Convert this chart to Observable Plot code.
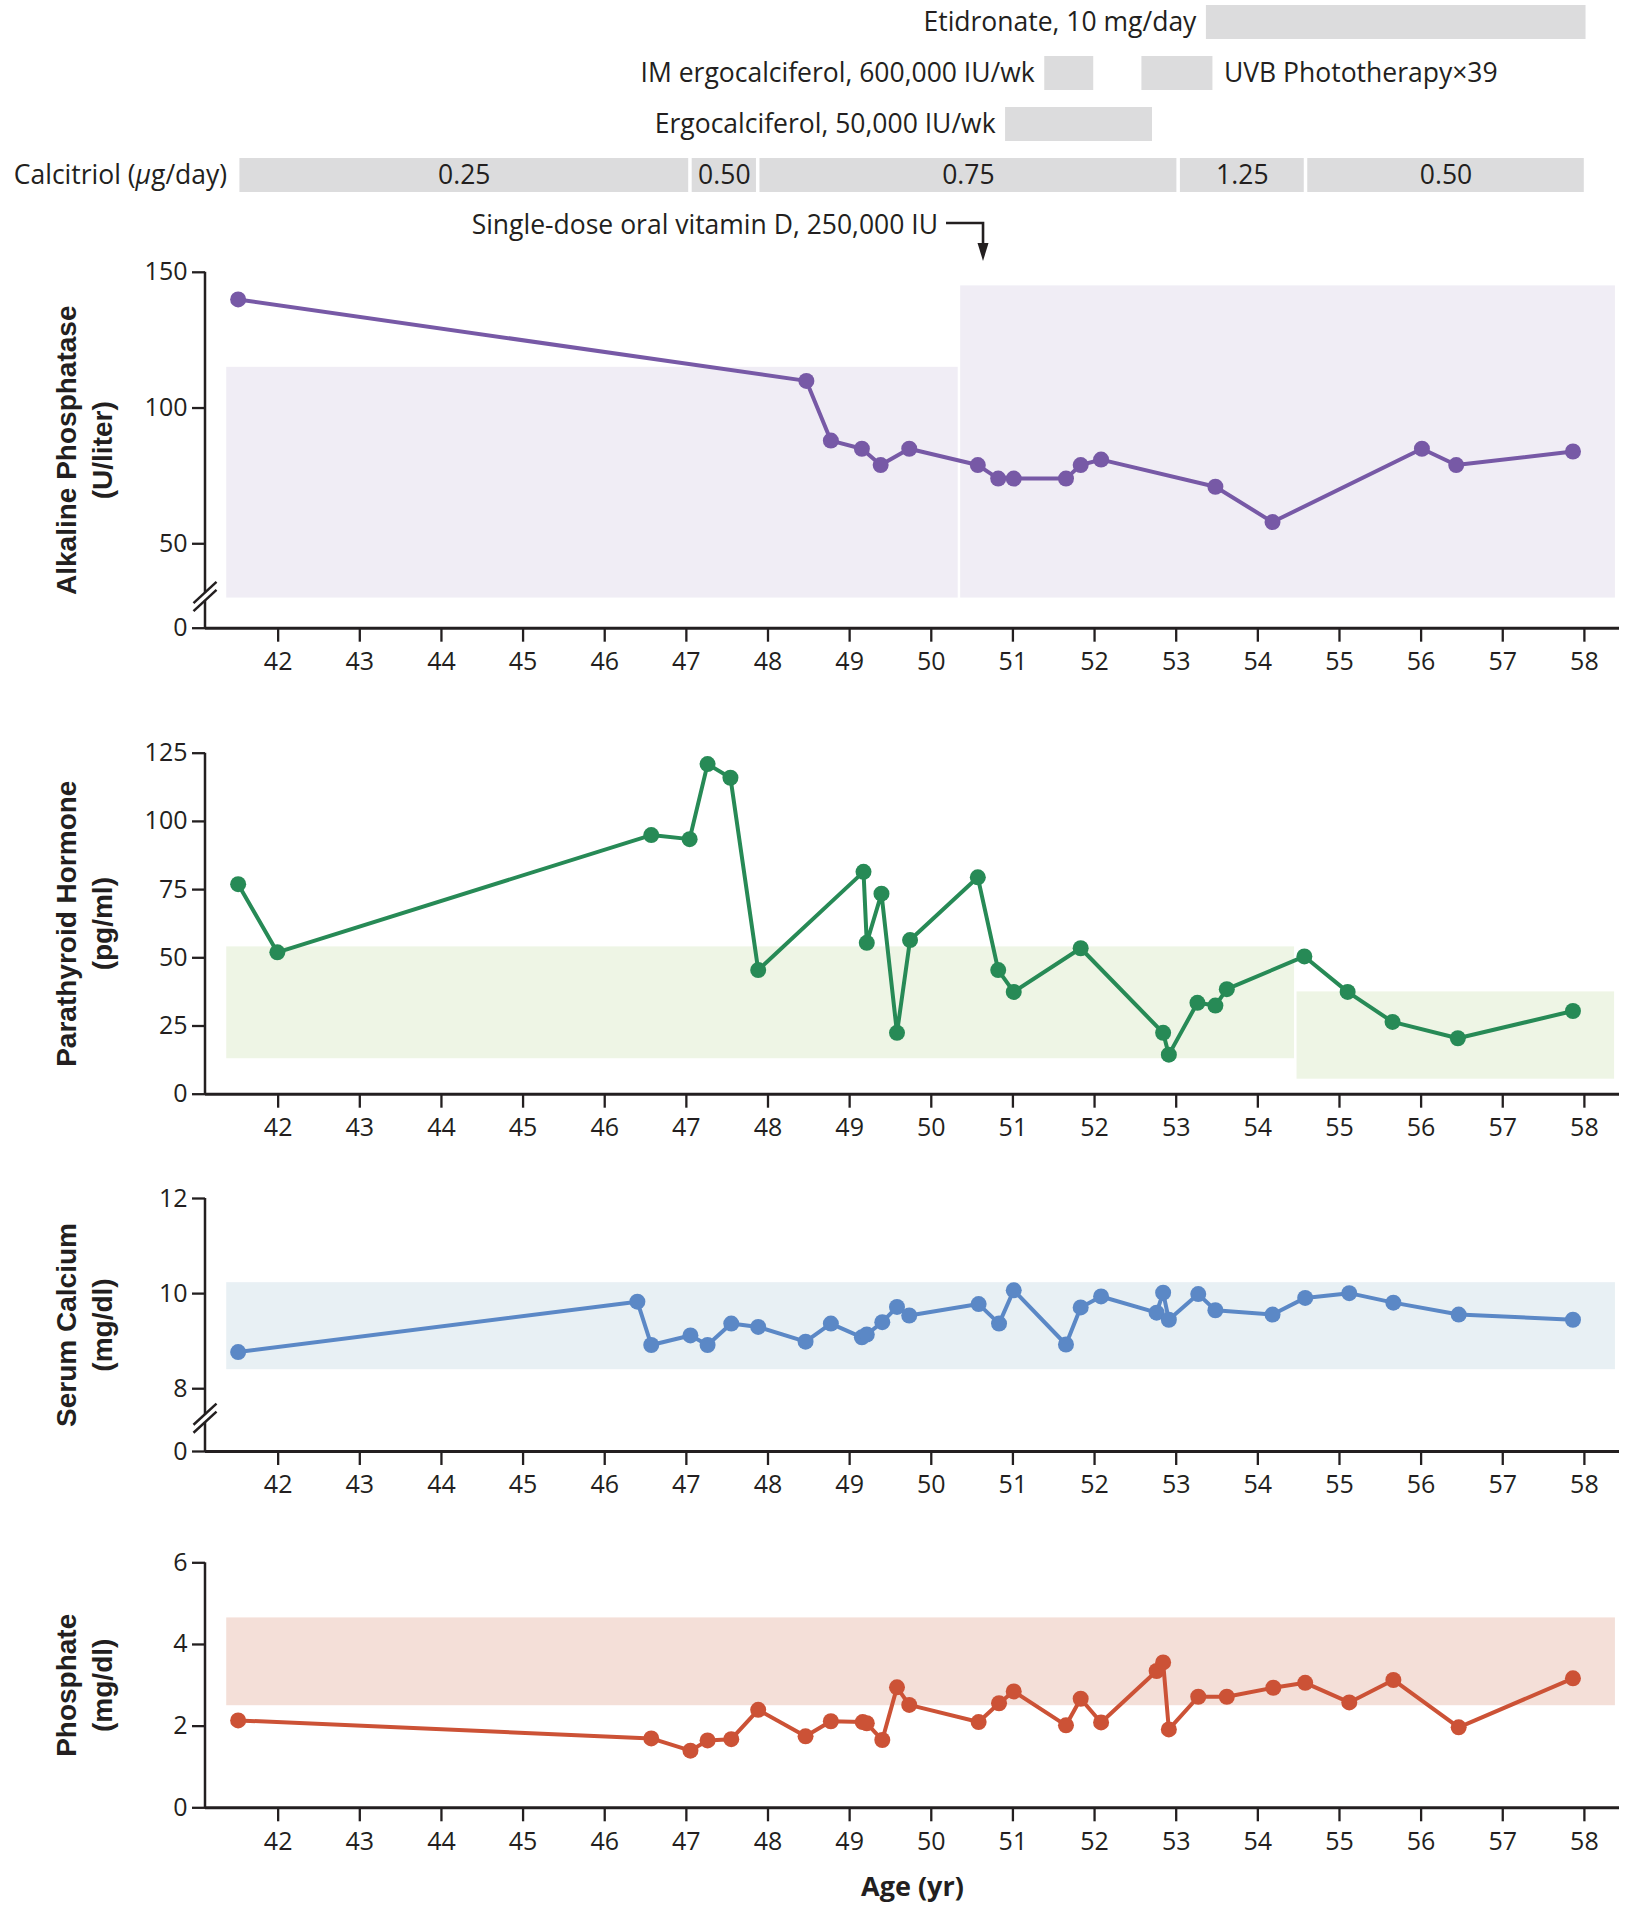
<!DOCTYPE html>
<html>
<head>
<meta charset="utf-8">
<script src="https://cdn.jsdelivr.net/npm/d3@7"></script>
<script src="https://cdn.jsdelivr.net/npm/@observablehq/plot@0.6"></script>
<style>
  body { margin: 0; background: #fff; }
  #chart { position: relative; width: 1626px; height: 1920px; }
</style>
</head>
<body>
<div id="chart"></div>
<script>
// ---------------- DATA ----------------
const ageTicks = [42, 43, 44, 45, 46, 47, 48, 49, 50, 51, 52, 53, 54, 55, 56, 57, 58];

// Treatments (top)
const treatRows = ["etidronate", "im", "ergo", "calcitriol"];
const treatName = ["Etidronate, 10 mg/day", "IM ergocalciferol, 600,000 IU/wk", "UVB Phototherapy\u00d739", "Ergocalciferol, 50,000 IU/wk"];
const treatRow = ["etidronate", "im", "im", "ergo"];
const treatStart = [53.37, 51.39, 52.58, 50.91];
const treatEnd = [58.02, 51.99, 53.45, 52.71];
const treatLabelSide = ["before", "before", "after", "before"];

const calcitriolLabel = "Calcitriol (\u00b5g/day)";
const calcitriolDose = ["0.25", "0.50", "0.75", "1.25", "0.50"];
const calcitriolStart = [41.51, 47.05, 47.88, 53.03, 54.59];
const calcitriolEnd = [47.05, 47.88, 53.03, 54.59, 58.02];

const vitDAge = 50.64;
const vitDLabel = "Single-dose oral vitamin D, 250,000 IU";

// Alkaline phosphatase (U/liter) — axis broken below 30, baseline stands for 0
const alpAge = [41.51, 48.47, 48.77, 49.15, 49.38, 49.73, 50.57, 50.82, 51.01, 51.65, 51.83, 52.08, 53.48, 54.18, 56.01, 56.43, 57.86];
const alpValue = [140, 110, 88, 85, 79, 85, 79, 74, 74, 74, 79, 81, 71, 58, 85, 79, 84];
const alpTicks = [50, 100, 150];
const alpRefStart = [41.37, 50.36], alpRefEnd = [50.33, 58.38], alpRefLow = [30, 30], alpRefHigh = [115, 145];

// Parathyroid hormone (pg/ml)
const pthAge = [41.51, 41.99, 46.57, 47.04, 47.26, 47.54, 47.88, 49.17, 49.21, 49.39, 49.58, 49.74, 50.57, 50.82, 51.01, 51.83, 52.84, 52.91, 53.26, 53.48, 53.62, 54.57, 55.10, 55.65, 56.45, 57.86];
const pthValue = [77, 52, 95, 93.5, 121, 116, 45.5, 81.5, 55.5, 73.5, 22.5, 56.5, 79.5, 45.5, 37.5, 53.5, 22.5, 14.5, 33.5, 32.5, 38.5, 50.5, 37.5, 26.5, 20.5, 30.5];
const pthTicks = [25, 50, 75, 100, 125];
const pthRefStart = [41.37, 54.48], pthRefEnd = [54.45, 58.37], pthRefLow = [13, 5.5], pthRefHigh = [54, 37.5];

// Serum calcium (mg/dl) — axis broken below 8, baseline stands for 0
const caAge = [41.51, 46.40, 46.57, 47.05, 47.26, 47.55, 47.88, 48.46, 48.77, 49.15, 49.21, 49.40, 49.58, 49.73, 50.58, 50.83, 51.01, 51.65, 51.83, 52.08, 52.76, 52.84, 52.91, 53.27, 53.48, 54.18, 54.58, 55.12, 55.66, 56.46, 57.86];
const caValue = [8.77, 9.83, 8.92, 9.12, 8.92, 9.37, 9.30, 8.99, 9.37, 9.08, 9.14, 9.40, 9.72, 9.54, 9.78, 9.37, 10.07, 8.93, 9.71, 9.94, 9.60, 10.02, 9.45, 9.99, 9.65, 9.56, 9.91, 10.01, 9.81, 9.56, 9.45];
const caTicks = [8, 10, 12];
const caRefStart = [41.37], caRefEnd = [58.38], caRefLow = [8.4], caRefHigh = [10.23];

// Phosphate (mg/dl)
const pAge = [41.51, 46.57, 47.05, 47.26, 47.55, 47.88, 48.46, 48.77, 49.16, 49.21, 49.40, 49.58, 49.73, 50.58, 50.83, 51.01, 51.65, 51.83, 52.08, 52.76, 52.84, 52.91, 53.27, 53.62, 54.19, 54.58, 55.12, 55.66, 56.46, 57.86];
const pValue = [2.14, 1.70, 1.40, 1.65, 1.68, 2.40, 1.75, 2.12, 2.10, 2.07, 1.66, 2.95, 2.52, 2.10, 2.56, 2.85, 2.02, 2.67, 2.09, 3.35, 3.56, 1.92, 2.72, 2.72, 2.94, 3.06, 2.58, 3.13, 1.97, 3.17];
const pTicks = [2, 4, 6];
const pRefStart = [41.37], pRefEnd = [58.38], pRefLow = [2.5], pRefHigh = [4.65];

// ---------------- STYLE / LAYOUT ----------------
const INK = "#231f20";
const BAR = "#dcdcdd";
const FONT = "'Open Sans', Lato, sans-serif";
const TITLE_FONT = "'Liberation Sans', Arial, sans-serif";
const W = 1626, ML = 205, MR = 7;
const X_DOMAIN = [41.11, 58.43];
const root = document.getElementById("chart");
const baseStyle = {fontFamily: FONT, fontSize: "25px", color: INK, background: "transparent", overflow: "visible"};

function place(svg, top) {
  svg.style.position = "absolute";
  svg.style.left = "0px";
  svg.style.top = top + "px";
  root.appendChild(svg);
}

// ---------------- TOP: TREATMENTS ----------------
const treat = treatName.map((name, i) => ({name, row: treatRow[i], start: treatStart[i], end: treatEnd[i], side: treatLabelSide[i]}));
const calc = calcitriolDose.map((dose, i) => ({dose, row: "calcitriol", start: calcitriolStart[i], end: calcitriolEnd[i]}));

function vitDArrow(index, scales, values, dims) {
  const ax = scales.x(vitDAge);
  const h = dims.height;
  const yl = h - 39;
  const g = d3.create("svg:g");
  g.append("path").attr("d", `M${ax - 37},${yl}H${ax}V${h - 16}`)
    .attr("fill", "none").attr("stroke", INK).attr("stroke-width", 2.6);
  g.append("path").attr("d", `M${ax - 5.5},${h - 19}L${ax + 5.5},${h - 19}L${ax},${h - 1}Z`).attr("fill", INK);
  g.append("text").attr("x", ax - 45).attr("y", yl + 3).attr("dy", "0.32em")
    .attr("text-anchor", "end").attr("fill", INK).attr("font-size", 26.5).text(vitDLabel);
  return g.node();
}

const topSvg = Plot.plot({
  width: W, height: 262, marginLeft: ML, marginRight: MR, marginTop: 5, marginBottom: 69,
  style: {...baseStyle, fontSize: "26.5px"},
  x: {domain: X_DOMAIN, axis: null},
  y: {domain: treatRows, range: [5, 193], paddingInner: 0.33, paddingOuter: 0, axis: null},
  marks: [
    Plot.barX(treat, {x1: "start", x2: "end", y: "row", fill: BAR}),
    Plot.text(treat.filter(d => d.side === "before"), {x: "start", y: "row", text: "name", textAnchor: "end", dx: -10}),
    Plot.text(treat.filter(d => d.side === "after"), {x: "end", y: "row", text: "name", textAnchor: "start", dx: 11}),
    Plot.barX(calc, {x1: "start", x2: "end", y: "row", fill: BAR, insetLeft: 1.75, insetRight: 1.75}),
    Plot.text(calc, {x: d => (d.start + d.end) / 2, y: "row", text: "dose"}),
    Plot.text([calcitriolLabel], {x: calcitriolStart[0], y: () => "calcitriol", text: d => d, textAnchor: "end", dx: -11}),
    vitDArrow
  ]
});
place(topSvg, 0);
// italic mu
d3.select(topSvg).selectAll("text").filter(function() { return this.textContent === calcitriolLabel; })
  .each(function() {
    const t = d3.select(this);
    t.text(null);
    t.append("tspan").text("Calcitriol (");
    t.append("tspan").attr("font-style", "italic").text("\u00b5");
    t.append("tspan").text("g/day)");
  });

// ---------------- PANELS ----------------
// y-axis line, optionally interrupted by a break mark ("//") at breakAt
function yAxisLine(floor, topValue, breakAt) {
  return (index, scales, values, dims) => {
    const x = dims.marginLeft;
    const yTop = scales.y(topValue), yBot = scales.y(floor);
    const g = d3.create("svg:g").attr("stroke", INK).attr("fill", "none").attr("stroke-width", 2.5);
    if (breakAt == null) {
      g.append("path").attr("d", `M${x},${yTop}V${yBot}`);
    } else {
      const yc = scales.y(breakAt);
      g.append("path").attr("d", `M${x},${yTop}V${yc - 4}M${x},${yc + 4}V${yBot}`);
      for (const o of [-4, 4]) {
        g.append("line").attr("x1", x - 11.5).attr("y1", yc + o + 10.6).attr("x2", x + 11.5).attr("y2", yc + o - 10.6);
      }
    }
    return g.node();
  };
}

function panel(cfg) {
  const {top, height, frameTop, frameBottom, floor, ticks, age, value, color,
         refStart, refEnd, refLow, refHigh, refColor, title, breakAt, xTitle} = cfg;
  const pts = age.map((a, i) => ({age: a, value: value[i]}));
  const ref = refStart.map((s, i) => ({x1: s, x2: refEnd[i], y1: refLow[i], y2: refHigh[i]}));
  const mt = frameTop - top, mb = top + height - frameBottom;
  const yMax = ticks[ticks.length - 1];
  const tickStyle = {tickSize: 13, tickPadding: 5, label: null, stroke: INK, strokeWidth: 2.3, fontSize: 25};
  const marks = [
    Plot.rect(ref, {x1: "x1", x2: "x2", y1: "y1", y2: "y2", fill: refColor}),
    Plot.axisX(ageTicks, {tickSize: 14, tickPadding: 10, label: null, stroke: INK, strokeWidth: 2.3, fontSize: 25, tickFormat: d => String(d)}),
    Plot.axisY(ticks, {...tickStyle, tickFormat: d => String(d)}),
    // the baseline of the (possibly broken) axis is labelled 0
    Plot.axisY([floor], {...tickStyle, tickFormat: () => "0"}),
    Plot.ruleY([floor], {stroke: INK, strokeWidth: 3}),
    yAxisLine(floor, yMax, breakAt),
    Plot.line(pts, {x: "age", y: "value", stroke: color, strokeWidth: 4}),
    Plot.dot(pts, {x: "age", y: "value", r: 8, fill: color}),
    Plot.text([title], {text: d => d, frameAnchor: "left", textAnchor: "middle", rotate: -90, dx: -123, lineHeight: 1.3,
                        fontWeight: "bold", fontSize: 28, fontFamily: TITLE_FONT})
  ];
  if (xTitle) marks.push(Plot.text([xTitle], {text: d => d, frameAnchor: "bottom", dy: 88, fontWeight: "bold", fontSize: 27}));
  const svg = Plot.plot({
    width: W, height, marginLeft: ML, marginRight: MR, marginTop: mt, marginBottom: mb,
    style: baseStyle,
    x: {domain: X_DOMAIN},
    y: {domain: [floor, yMax]},
    marks
  });
  place(svg, top);
}

panel({top: 262, height: 438, frameTop: 271.8, frameBottom: 627.7,
  floor: 18.9, ticks: alpTicks, breakAt: 30.4,
  age: alpAge, value: alpValue, color: "#7759a6",
  refStart: alpRefStart, refEnd: alpRefEnd, refLow: alpRefLow, refHigh: alpRefHigh, refColor: "#f0edf5",
  title: "Alkaline Phosphatase\n(U/liter)"});

panel({top: 700, height: 460, frameTop: 752.7, frameBottom: 1093.7,
  floor: 0, ticks: pthTicks,
  age: pthAge, value: pthValue, color: "#278a56",
  refStart: pthRefStart, refEnd: pthRefEnd, refLow: pthRefLow, refHigh: pthRefHigh, refColor: "#eef5e5",
  title: "Parathyroid Hormone\n(pg/ml)"});

panel({top: 1160, height: 360, frameTop: 1198, frameBottom: 1451,
  floor: 6.68, ticks: caTicks, breakAt: 7.37,
  age: caAge, value: caValue, color: "#5b88c6",
  refStart: caRefStart, refEnd: caRefEnd, refLow: caRefLow, refHigh: caRefHigh, refColor: "#e8f0f4",
  title: "Serum Calcium\n(mg/dl)"});

panel({top: 1520, height: 400, frameTop: 1562.3, frameBottom: 1807.3,
  floor: 0, ticks: pTicks,
  age: pAge, value: pValue, color: "#cc5236",
  refStart: pRefStart, refEnd: pRefEnd, refLow: pRefLow, refHigh: pRefHigh, refColor: "#f4dfd8",
  title: "Phosphate\n(mg/dl)", xTitle: "Age (yr)"});
</script>
</body>
</html>
